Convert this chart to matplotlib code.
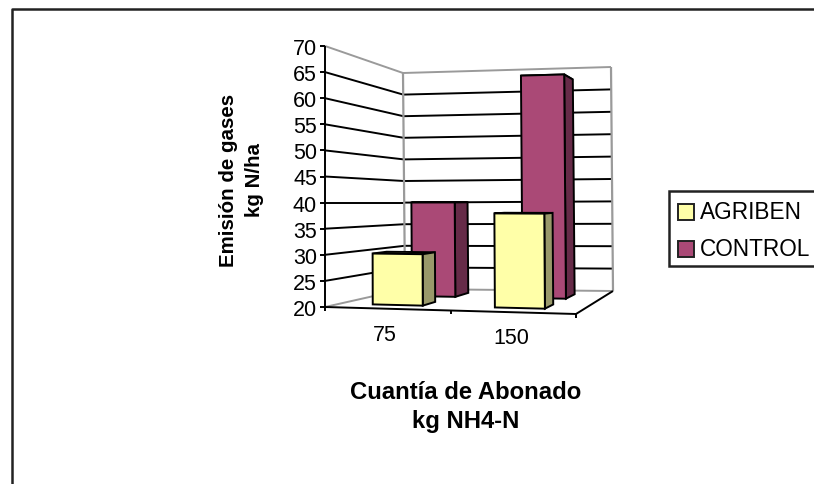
import numpy as np
import matplotlib
matplotlib.use("Agg")
import matplotlib.pyplot as plt
from matplotlib.patches import Polygon, Rectangle

plt.rcParams['font.family'] = ['Liberation Sans', 'DejaVu Sans']

# Data
categories = ["75", "150"]
agriben = [30, 38]
control = [40, 66.5]
y_ticks = [20, 25, 30, 35, 40, 45, 50, 55, 60, 65, 70]
series_names = ["AGRIBEN", "CONTROL"]

V_MIN, V_MAX = y_ticks[0], y_ticks[-1]

# screen corners of the 3D box (pixels), front/back, left/right, bottom/top
FLB = np.array([325, 308.0])
FRB = np.array([576, 315.0])
BLB = np.array([405, 290.0])
BRB = np.array([613, 292.0])
FLT = np.array([325, 47.0])
FRT = np.array([574, 39.0])
BLT = np.array([403, 74.0])
BRT = np.array([611, 68.0])

YELLOW, YELLOW_SIDE = "#FFFFA8", "#99996A"
PURPLE, PURPLE_SIDE = "#AA4976", "#662B48"
WALL = "#9A9A9A"


def proj(f, d, v):
    # f across (0-1), d depth (0 front, 1 back), v axis value
    t = (v - V_MIN) / (V_MAX - V_MIN)
    front = (FLB * (1 - f) + FRB * f) * (1 - t) + (FLT * (1 - f) + FRT * f) * t
    back = (BLB * (1 - f) + BRB * f) * (1 - t) + (BLT * (1 - f) + BRT * f) * t
    return front * (1 - d) + back * d


def line3d(ax, a, b, color="black", lw=1.4, z=2):
    ax.plot([a[0], b[0]], [a[1], b[1]], color=color, lw=lw, zorder=z,
            solid_capstyle="butt")


def bar3d(ax, f0, f1, d0, d1, v, face, side, z):
    top = [proj(f0, d0, v), proj(f1, d0, v), proj(f1, d1, v), proj(f0, d1, v)]
    right = [proj(f1, d0, V_MIN), proj(f1, d1, V_MIN), proj(f1, d1, v), proj(f1, d0, v)]
    front = [proj(f0, d0, V_MIN), proj(f1, d0, V_MIN), proj(f1, d0, v), proj(f0, d0, v)]
    for pts, col in [(top, face), (right, side), (front, face)]:
        ax.add_patch(Polygon(pts, closed=True, facecolor=col, edgecolor="black",
                             lw=1.4, joinstyle="miter", zorder=z))


fig = plt.figure(figsize=(8.14, 4.85), dpi=100)
ax = fig.add_axes([0, 0, 1, 1])
ax.set_xlim(0, 814)
ax.set_ylim(485, 0)
ax.axis("off")

# outer chart frame, only left and top are in the crop
ax.plot([11.5, 11.5, 814], [485, 10, 10], color="#222222", lw=1.8, zorder=1)

# walls and gridlines
for v in y_ticks:
    col = WALL if v in (V_MIN, V_MAX) else "black"
    line3d(ax, proj(0, 0, v), proj(0, 1, v), col)
    line3d(ax, proj(0, 1, v), proj(1, 1, v), col)
    line3d(ax, proj(0, 0, v) - np.array([5, 0]), proj(0, 0, v))
    ax.text(317, proj(0, 0, v)[1], str(v), ha="right", va="center_baseline",
            fontsize=15.5, color="black")
line3d(ax, proj(0, 1, V_MIN), proj(0, 1, V_MAX), WALL, lw=1.6)
line3d(ax, proj(1, 1, V_MIN), proj(1, 1, V_MAX), WALL, lw=1.6)

# floor and front axis
line3d(ax, proj(0, 0, V_MIN), proj(0, 0, V_MAX), z=3)
line3d(ax, proj(0, 0, V_MIN), proj(1, 0, V_MIN), z=3)
line3d(ax, proj(1, 0, V_MIN), proj(1, 1, V_MIN), z=3)
for f in (0.0, 0.5, 1.0):
    p = proj(f, 0, V_MIN)
    line3d(ax, p, p + np.array([0, 3.5]), z=3)

# bars, back row first
control_f = [0.257, 0.752]
agriben_f = [0.237, 0.74]
for i, v in enumerate(control):
    bar3d(ax, control_f[i] - 0.097, control_f[i] + 0.097, 0.64, 0.84, v, PURPLE, PURPLE_SIDE, 4)
for i, v in enumerate(agriben):
    bar3d(ax, agriben_f[i] - 0.103, agriben_f[i] + 0.103, 0.19, 0.38, v, YELLOW, YELLOW_SIDE, 5)

# category labels
cat_xy = [(385, 336), (511, 339)]
for name, (x, y) in zip(categories, cat_xy):
    ax.text(x, y, name, ha="center", va="center", fontsize=15.5)

# axis titles
ax.text(241.5, 180, "Emisión de gases\nkg N/ha", rotation=90, ha="center", va="center",
        fontsize=14.8, fontweight="bold", linespacing=1.5)
ax.text(466, 407, "Cuantía de Abonado\nkg NH4-N", ha="center", va="center",
        fontsize=17.2, fontweight="bold", linespacing=1.3)

# legend, cut by the right edge like the source
ax.add_patch(Rectangle((669, 191.5), 160, 75.5, facecolor="white", edgecolor="#222222",
                       lw=1.8, zorder=6, clip_on=True))
for name, col, y in zip(series_names, [YELLOW, PURPLE], [212.5, 250]):
    ax.add_patch(Rectangle((677.5, y - 8), 16, 16, facecolor=col, edgecolor="#222222",
                           lw=1.4, zorder=7))
    ax.text(700, y, name, ha="left", va="center", fontsize=16.3, zorder=7)

fig.savefig("out.png", dpi=100)
